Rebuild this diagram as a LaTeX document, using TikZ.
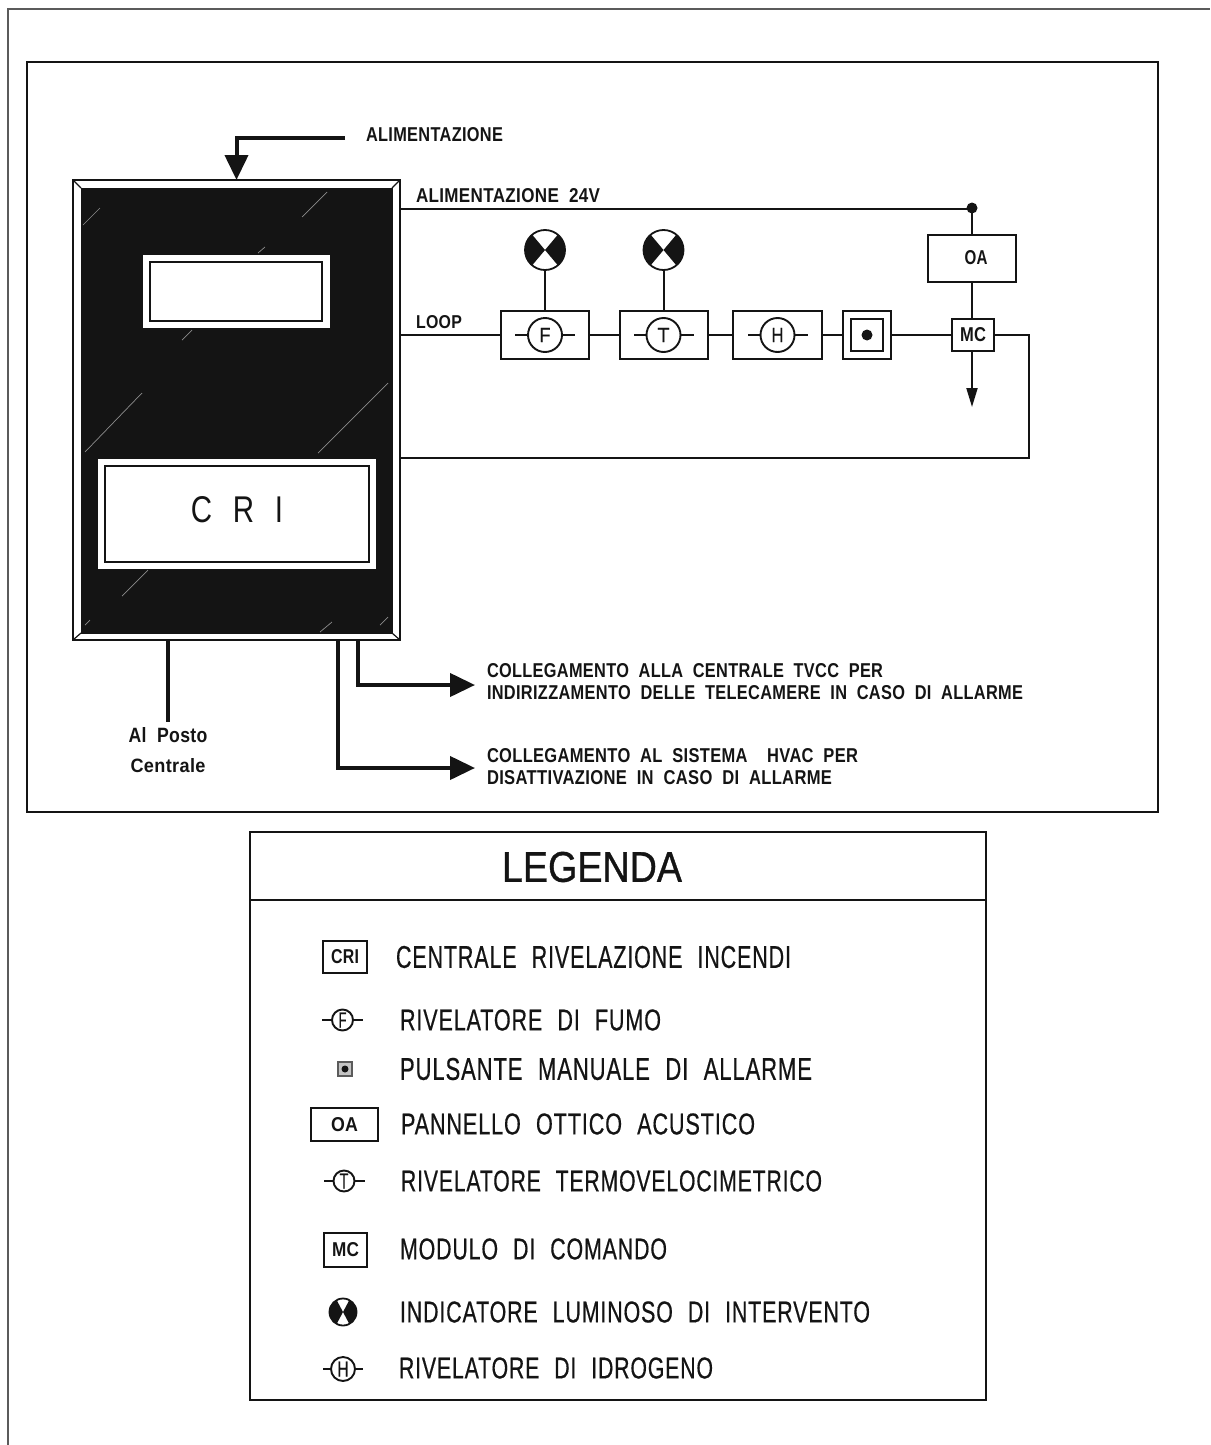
\documentclass[tikz,border=0pt]{standalone}
\usepackage{graphicx}
\usepackage{fontspec}
\setmainfont{Liberation Sans}
\newfontfamily\lgfont[WordSpace=2.2,LetterSpace=4,FakeBold=0.6]{Liberation Sans}
\newfontfamily\ttlfont[FakeBold=0.9]{Liberation Sans}
\newfontfamily\dgfont[WordSpace=2.0,LetterSpace=2,BoldFont={Liberation Sans Bold}]{Liberation Sans}
\usetikzlibrary{arrows.meta,calc}
\newcommand{\fitd}[3]{\resizebox{#1pt}{#2pt}{\dgfont\bfseries\fontsize{20}{24}\selectfont #3}}
\newcommand{\fitl}[3]{\resizebox{#1pt}{#2pt}{\lgfont\fontsize{20}{24}\selectfont #3}}
\newcommand{\lampsym}[5]{% name x y radius half-angle
  \node[draw=ink,fill=white,circle,line width=1.8pt,minimum size=#4*2pt] (#1) at (#2,#3) {};
  \fill[ink] (#1.center) -- ++(#5:#4) arc[start angle=#5,end angle=-#5,radius=#4] -- cycle;
  \fill[ink] (#1.center) -- ++(180-#5:#4) arc[start angle=180-#5,end angle=180+#5,radius=#4] -- cycle;}
\newcommand{\detsym}[5]{% name x y radius stub
  \node[sym,minimum size=#4*2pt] (#1) at (#2,#3) {};
  \draw[wire] (#1.west) -- ++(-#5,0);
  \draw[wire] (#1.east) -- ++(#5,0);}
\definecolor{ink}{gray}{0.08}
\tikzset{
  x=1pt,y=-1pt,
  every node/.style={inner sep=0pt,outer sep=0pt},
  wire/.style={draw=ink,line width=2pt},
  frame/.style={draw=ink,line width=2pt,rectangle,anchor=north west},
  sym/.style={draw=ink,line width=1.9pt,circle},
  heavy/.style={draw=ink,line width=4pt},
  bigarrow/.style={-{Triangle[length=25pt,width=23pt]}},
  lbl/.style={anchor=west,text=ink},
  ctr/.style={anchor=center,text=ink},
  scratch/.style={draw=white!55!black,line width=0.7pt},
}
\begin{document}
\begin{tikzpicture}
\useasboundingbox (0,0) rectangle (1210,1445);
\fill[white] (0,0) rectangle (1210,1445);
% sheet edge
\draw[draw=ink!70,line width=1.4pt] (8,1445) -- (8,9) -- (1210,9);
\node[frame,minimum width=1131pt,minimum height=750pt] (outer) at (27,62) {};
% cabinet
\node[frame,fill=white,minimum width=327pt,minimum height=460pt] (cab) at (73,180) {};
\node[draw=ink,fill=ink,anchor=north west,minimum width=311pt,minimum height=445pt] (panel) at (81,188) {};
\draw[wire,line width=1.2pt] (cab.north west) -- (panel.north west);
\draw[wire,line width=1.2pt] (cab.north east) -- (panel.north east);
\draw[wire,line width=1.2pt] (cab.south west) -- (panel.south west);
\draw[wire,line width=1.2pt] (cab.south east) -- (panel.south east);
\foreach \a/\b/\c/\d in {83/225/100/208,302/217/327/192,258/253/265/247,182/340/192/330,85/452/142/393,318/453/388/383,122/596/148/570,85/625/90/620,320/632/332/622,380/625/388/617}
  \draw[scratch] (\a,\b) -- (\c,\d);
\node[anchor=north west,fill=white,minimum width=187pt,minimum height=73pt] (dispo) at (143,255) {};
\node[frame,minimum width=172pt,minimum height=59pt] (dispi) at (150,262) {};
\node[anchor=north west,fill=white,minimum width=278pt,minimum height=110pt] (crio) at (98,459) {};
\node[frame,minimum width=264pt,minimum height=96pt] (crii) at (105,466) {};
\node[ctr] (critxt) at (237,510) {\resizebox{92pt}{26pt}{\fontspec[WordSpace=2.2,LetterSpace=4]{Liberation Sans}\fontsize{20}{24}\selectfont C R I}};
% power in
\coordinate (pw) at (345,138);
\draw[heavy,bigarrow] (pw) -| (cab.north);
\node[lbl] (talim) at (366,135) {\fitd{137}{14}{ALIMENTAZIONE}};
% 24V line
\node[lbl] (t24) at (416,196) {\fitd{184}{14}{ALIMENTAZIONE 24V}};
\fill[ink] (972,208) circle (5.5);
\coordinate (jn) at (972,209);
\draw[wire] (jn -| cab.east) -- (jn);
% loop devices
\node[frame,minimum width=88pt,minimum height=48pt] (boxF) at (501,311) {};
\node[frame,minimum width=88pt,minimum height=48pt] (boxT) at (620,311) {};
\node[frame,minimum width=89pt,minimum height=48pt] (boxH) at (733,311) {};
\node[frame,minimum width=48pt,minimum height=48pt] (boxP) at (843,311) {};
\node[frame,minimum width=32pt,minimum height=32pt] (boxPi) at (851,319) {};
\node[circle,fill=ink,minimum size=11pt] (dotP) at (867,335) {};
\node[frame,minimum width=88pt,minimum height=47pt] (boxOA) at (928,235) {};
\node[frame,minimum width=42pt,minimum height=32pt] (boxMC) at (952,319) {};
\node[ctr] (tOA) at (976,258) {\fitd{23}{14}{OA}};
\node[ctr] (tMC) at (973,335) {\fitd{26}{14}{MC}};
\detsym{detF}{545}{335}{17}{13}
\detsym{detT}{663.5}{335}{17}{13}
\detsym{detH}{777.5}{335}{17}{13}
\node[ctr] (tF) at (detF) {\resizebox{11pt}{14pt}{\lgfont\fontsize{20}{24}\selectfont F}};
\node[ctr] (tT) at (detT) {\resizebox{12pt}{14pt}{\lgfont\fontsize{20}{24}\selectfont T}};
\node[ctr] (tH) at (detH) {\resizebox{12pt}{14pt}{\lgfont\fontsize{20}{24}\selectfont H}};
\lampsym{lampF}{545}{250}{20}{50}
\lampsym{lampT}{663.5}{250}{20}{50}
\draw[wire] (lampF.south) -- (boxF.north -| lampF.south);
\draw[wire] (lampT.south) -- (boxT.north -| lampT.south);
\node[lbl] (tloop) at (416,322) {\fitd{46}{13}{LOOP}};
\draw[wire] (boxF.west -| cab.east) -- (boxF.west);
\draw[wire] (boxF.east) -- (boxT.west);
\draw[wire] (boxT.east) -- (boxH.west);
\draw[wire] (boxH.east) -- (boxP.west);
\draw[wire] (boxP.east) -- (boxMC.west);
\draw[wire] (jn) -- (boxOA.north -| jn);
\draw[wire] (boxOA.south -| jn) -- (boxMC.north -| jn);
\coordinate (mcout) at (972,407);
\draw[wire,-{Triangle[length=19pt,width=11pt]}] (boxMC.south -| mcout) -- (mcout);
\coordinate (ret) at (1029,458);
\draw[wire] (boxMC.east) -| (ret) -- (ret -| cab.east);
% bottom connections
\coordinate (posto) at (168,722);
\draw[heavy] (posto |- cab.south) -- (posto);
\node[ctr] (tp1) at (168,735) {\fitd{79}{15}{Al Posto}};
\node[ctr] (tp2) at (168,766) {\fitd{75}{14}{Centrale}};
\coordinate (bendA) at (358,685);
\coordinate (tipA) at (475,685);
\draw[heavy,bigarrow] (bendA |- cab.south) -- (bendA) -- (tipA);
\coordinate (bendB) at (338,768);
\coordinate (tipB) at (475,768);
\draw[heavy,bigarrow] (bendB |- cab.south) -- (bendB) -- (tipB);
\node[lbl] (c1) at (487,671) {\fitd{396}{14}{COLLEGAMENTO ALLA CENTRALE TVCC PER}};
\node[lbl] (c2) at (487,693) {\fitd{536}{14}{INDIRIZZAMENTO DELLE TELECAMERE IN CASO DI ALLARME}};
\node[lbl] (c3) at (487,756) {\fitd{371}{14}{COLLEGAMENTO AL SISTEMA\ \ HVAC PER}};
\node[lbl] (c4) at (487,778) {\fitd{345}{14}{DISATTIVAZIONE IN CASO DI ALLARME}};
% legend
\node[frame,minimum width=736pt,minimum height=568pt] (leg) at (250,832) {};
\coordinate (legl) at (250,900);
\draw[wire] (legl) -- (legl -| leg.east);
\node[ctr] (legt) at (592,867) {\resizebox{180pt}{30pt}{\ttlfont\fontsize{30}{36}\selectfont LEGENDA}};
\node[frame,minimum width=44pt,minimum height=32pt] (lCRI) at (323,941) {};
\node[ctr] (lCRIt) at (lCRI) {\fitd{28}{14}{CRI}};
\node[lbl] (l1) at (396,957) {\fitl{395}{22}{CENTRALE RIVELAZIONE INCENDI}};
\detsym{lF}{342.5}{1020}{10.5}{10}
\node[ctr] (lFt) at (lF) {\resizebox{8pt}{15pt}{\lgfont\fontsize{20}{24}\selectfont F}};
\node[lbl] (l2) at (400,1020) {\fitl{261}{21}{RIVELATORE DI FUMO}};
\node[draw=ink!70,fill=ink!25,line width=1.8pt,anchor=center,minimum size=14pt] (lP) at (345,1069) {};
\node[circle,fill=ink,minimum size=7pt] (lPd) at (lP) {};
\node[lbl] (l3) at (400,1069) {\fitl{412}{22}{PULSANTE MANUALE DI ALLARME}};
\node[frame,minimum width=67pt,minimum height=33pt] (lOA) at (311,1108) {};
\node[ctr] (lOAt) at (lOA) {\fitd{27}{14}{OA}};
\node[lbl] (l4) at (401,1124) {\fitl{354}{21}{PANNELLO OTTICO ACUSTICO}};
\detsym{lT}{344}{1181}{10.5}{10}
\node[ctr] (lTt) at (lT) {\resizebox{9pt}{15pt}{\lgfont\fontsize{20}{24}\selectfont T}};
\node[lbl] (l5) at (401,1181) {\fitl{421}{21}{RIVELATORE TERMOVELOCIMETRICO}};
\node[frame,minimum width=43pt,minimum height=34pt] (lMC) at (324,1233) {};
\node[ctr] (lMCt) at (lMC) {\fitd{27}{14}{MC}};
\node[lbl] (l6) at (400,1249) {\fitl{267}{21}{MODULO DI COMANDO}};
\lampsym{lL}{343}{1312}{13.5}{62}
\node[lbl] (l7) at (400,1312) {\fitl{470}{21}{INDICATORE LUMINOSO DI INTERVENTO}};
\detsym{lH}{343}{1369}{12}{8}
\node[ctr] (lHt) at (lH) {\resizebox{11pt}{15pt}{\lgfont\fontsize{20}{24}\selectfont H}};
\node[lbl] (l8) at (399,1368) {\fitl{314}{21}{RIVELATORE DI IDROGENO}};
\end{tikzpicture}
\end{document}
